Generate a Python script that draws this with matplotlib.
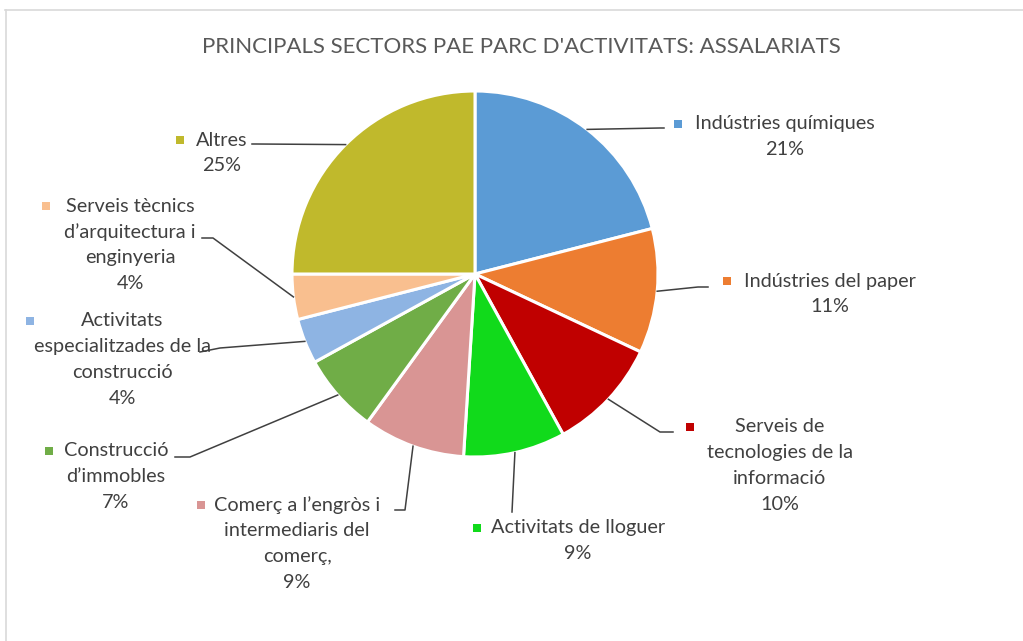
import numpy as np
import matplotlib
matplotlib.use("Agg")
import matplotlib.pyplot as plt
from matplotlib.lines import Line2D

# Data (share of employees, %)
sectors = [
    "Indústries químiques",
    "Indústries del paper",
    "Serveis de\ntecnologies de la\ninformació",
    "Activitats de lloguer",
    "Comerç a l’engròs i\nintermediaris del\ncomerç,",
    "Construcció\nd’immobles",
    "Activitats\nespecialitzades de la\nconstrucció",
    "Serveis tècnics\nd’arquitectura i\nenginyeria",
    "Altres",
]
shares = [21, 11, 10, 9, 9, 7, 4, 4, 25]
colors = ["#5B9BD5", "#ED7D31", "#C00000", "#11DA1B", "#D99594",
          "#70AD47", "#8EB4E3", "#F9BF8F", "#C0B92C"]

# Label layout in pixel coords (top-left origin):
# text centre x, first-line y, key x, elbow point, end point of leader
label_cx = [785, 830, 780, 578, 297, 116, 122, 130, 222]
label_y = [124, 281, 427, 528, 505, 451, 321, 206, 140]
key_x = [678, 727, 690, 477, 201, 49, 30, 46, 180]
elbow = [(660, 128), (698, 287), (660, 432), (512, 512), (405, 510),
         (190, 457), (220, 348), (213, 238), (256, 144)]
leader_end = [(664, 128), (708, 287), (673, 432), (512, 512), (395, 510),
              (175, 457), (200, 352), (202, 238), (252, 144)]

W, H = 1023, 641
cx, cy, r = 475, 274, 183


def fy(py):
    return H - py


fig = plt.figure(figsize=(W / 100, H / 100), dpi=100)
ax = fig.add_axes([0, 0, 1, 1])
wedges, _ = ax.pie(shares, colors=colors, startangle=90, counterclock=False,
                   center=(cx, fy(cy)), radius=r,
                   wedgeprops=dict(edgecolor="white", linewidth=2.2))
ax.set_xlim(0, W)
ax.set_ylim(0, H)
ax.axis("off")

# frame of the chart area
ax.add_line(Line2D([5, W], [fy(10), fy(10)], color="#D9D9D9", lw=1.2))
ax.add_line(Line2D([6, 6], [fy(10), 0], color="#D9D9D9", lw=1.2))

ax.text(521, fy(47), "PRINCIPALS SECTORS PAE PARC D'ACTIVITATS: ASSALARIATS",
        ha="center", va="center", fontsize=16, color="#595959",
        family="Lato")

txt_color = "#404040"
line_h = 25.8
for i, w in enumerate(wedges):
    mid = np.deg2rad((w.theta1 + w.theta2) / 2)
    sx = cx + r * np.cos(mid)
    sy = fy(cy) + r * np.sin(mid)
    ex, ey = elbow[i]
    lx, ly = leader_end[i]
    ax.add_line(Line2D([sx, ex, lx], [sy, fy(ey), fy(ly)],
                       color="#404040", lw=1.1))
    lines = sectors[i].split("\n") + [f"{shares[i]}%"]
    for k, t in enumerate(lines):
        ax.text(label_cx[i], fy(label_y[i] + k * line_h), t, ha="center",
                va="center", fontsize=14.3, color=txt_color, family="Lato")
    ax.scatter([key_x[i]], [fy(label_y[i])], marker="s", s=32,
               color=colors[i], linewidths=0)

fig.savefig("out.png", dpi=100)
